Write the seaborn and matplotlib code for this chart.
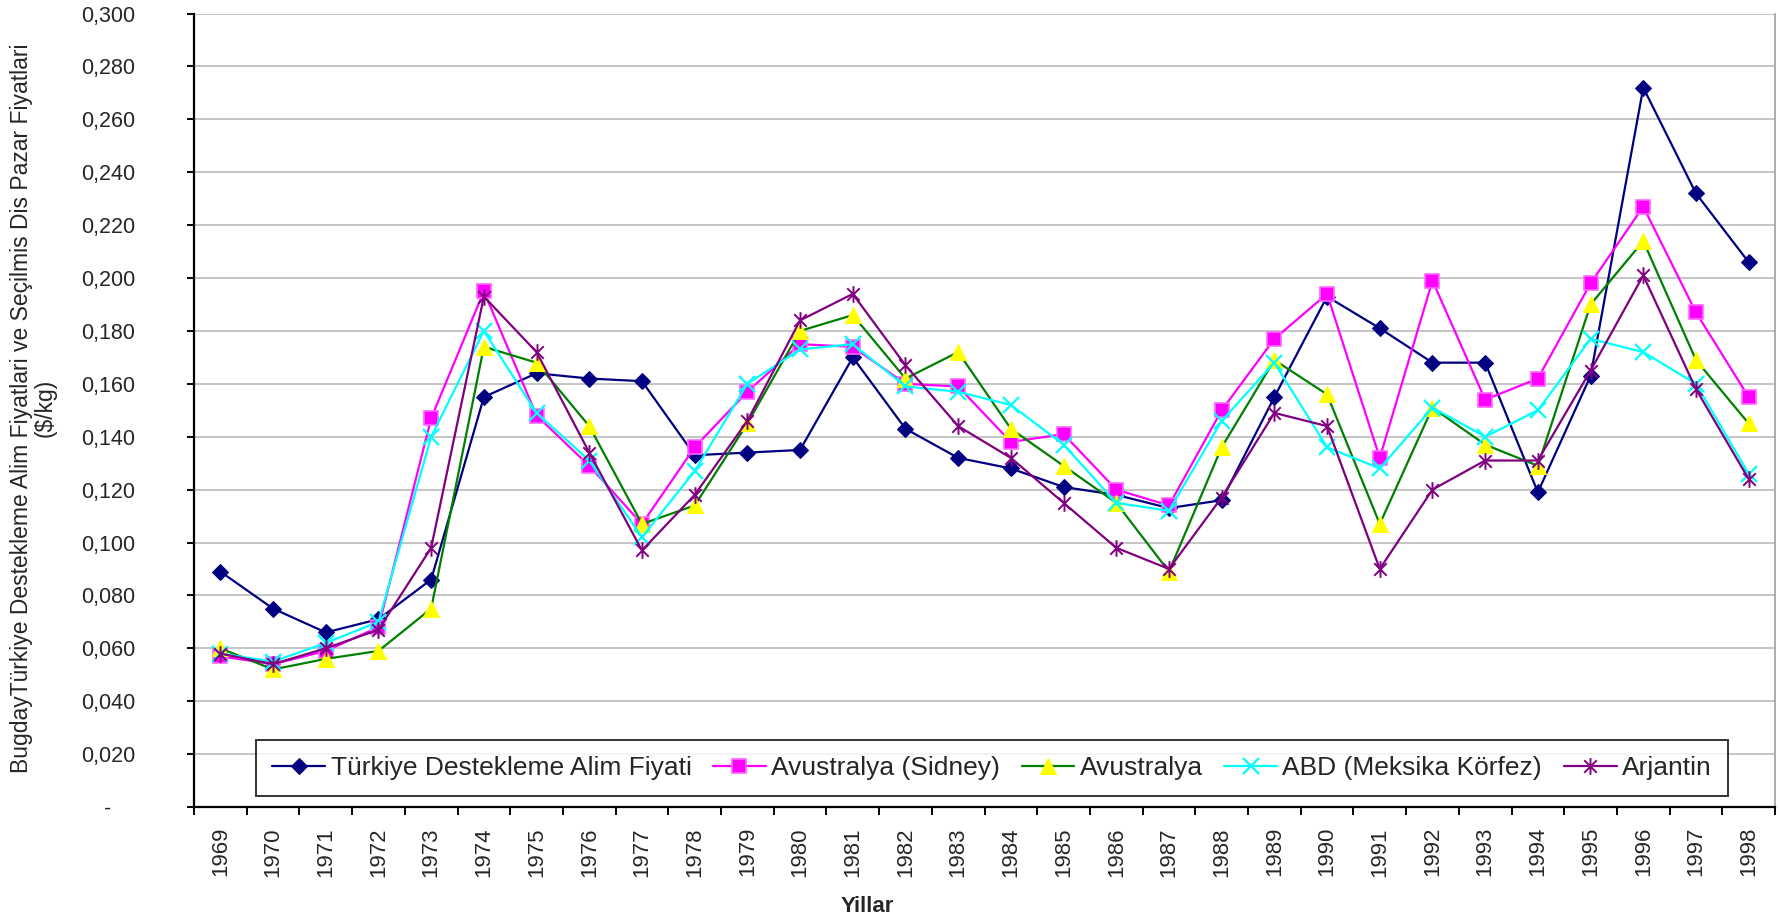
import matplotlib
matplotlib.use("Agg")
import matplotlib.pyplot as plt
import seaborn as sns
import numpy as np
import pandas as pd
from matplotlib.path import Path

years = list(range(1969, 1999))

turkiye = [0.089, 0.075, 0.066, 0.071, 0.086, 0.155, 0.164, 0.162, 0.161, 0.133,
           0.134, 0.135, 0.170, 0.143, 0.132, 0.128, 0.121, 0.118, 0.113, 0.116,
           0.155, 0.193, 0.181, 0.168, 0.168, 0.119, 0.163, 0.272, 0.232, 0.206]
avustralya_sidney = [0.057, 0.054, 0.059, 0.068, 0.147, 0.195, 0.148, 0.129, 0.107, 0.136,
                     0.157, 0.175, 0.174, 0.160, 0.159, 0.138, 0.141, 0.120, 0.114, 0.150,
                     0.177, 0.194, 0.132, 0.199, 0.154, 0.162, 0.198, 0.227, 0.187, 0.155]
avustralya = [0.060, 0.052, 0.056, 0.059, 0.075, 0.174, 0.168, 0.144, 0.107, 0.114,
              0.145, 0.180, 0.186, 0.162, 0.172, 0.143, 0.129, 0.115, 0.089, 0.136,
              0.169, 0.156, 0.107, 0.151, 0.137, 0.129, 0.190, 0.214, 0.169, 0.145]
abd = [0.058, 0.055, 0.062, 0.070, 0.140, 0.180, 0.149, 0.131, 0.102, 0.127,
       0.160, 0.173, 0.175, 0.159, 0.157, 0.152, 0.137, 0.115, 0.112, 0.146,
       0.168, 0.136, 0.128, 0.151, 0.140, 0.150, 0.177, 0.172, 0.160, 0.126]
arjantin = [0.058, 0.054, 0.060, 0.067, 0.098, 0.193, 0.172, 0.134, 0.097, 0.118,
            0.146, 0.184, 0.194, 0.167, 0.144, 0.132, 0.115, 0.098, 0.090, 0.117,
            0.149, 0.144, 0.090, 0.120, 0.131, 0.131, 0.165, 0.201, 0.158, 0.124]

series_names = ["Türkiye Destekleme Alim Fiyati", "Avustralya (Sidney)", "Avustralya",
                "ABD (Meksika Körfez)", "Arjantin"]
y_ticks = [0.0, 0.02, 0.04, 0.06, 0.08, 0.10, 0.12, 0.14, 0.16, 0.18, 0.20, 0.22, 0.24, 0.26, 0.28, 0.30]
y_tick_labels = ["-", "0,020", "0,040", "0,060", "0,080", "0,100", "0,120", "0,140", "0,160",
                 "0,180", "0,200", "0,220", "0,240", "0,260", "0,280", "0,300"]
y_label = "BugdayTürkiye Destekleme Alim Fiyatlari ve Seçilmis Dis Pazar Fiyatlari\n($/kg)"
x_label = "Yillar"

sns.set_style("white")
plt.rcParams['font.family'] = ['Liberation Sans', 'DejaVu Sans']

fig = plt.figure(figsize=(17.8, 9.23), dpi=100)
ax = fig.add_axes([0.109, 0.1257, 0.9972 - 0.109, 0.9853 - 0.1257])

star = Path([(0, -1), (0, 1), (-0.75, -0.75), (0.75, 0.75), (-0.75, 0.75), (0.75, -0.75)],
            [Path.MOVETO, Path.LINETO, Path.MOVETO, Path.LINETO, Path.MOVETO, Path.LINETO])

styles = [
    dict(color="#000080", marker="D", markersize=8.5, markerfacecolor="#000080", markeredgecolor="#000080"),
    dict(color="#FF00FF", marker="s", markersize=9.5, markerfacecolor="#FF00FF", markeredgecolor="#FF66FF", markeredgewidth=1.2),
    dict(color="#008000", marker="^", markersize=11.5, markerfacecolor="#FFFF00", markeredgecolor="#FFFF00"),
    dict(color="#00FFFF", marker="x", markersize=11, markeredgecolor="#00FFFF", markeredgewidth=1.6),
    dict(color="#800080", marker=star, markersize=12, markeredgecolor="#800080", markeredgewidth=1.4, fillstyle="none"),
]
data = [turkiye, avustralya_sidney, avustralya, abd, arjantin]

for name, vals, st in zip(series_names, data, styles):
    df = pd.DataFrame({"Yil": years, "Deger": vals})
    sns.lineplot(data=df, x="Yil", y="Deger", ax=ax, label=name, linewidth=1.6, **st)

ax.set_xlim(years[0] - 0.5, years[-1] + 0.5)
ax.set_ylim(0, 0.30)
ax.set_yticks(y_ticks)
ax.set_yticklabels(y_tick_labels, fontsize=15.5, ha="center")
ax.set_xticks(years)
ax.set_xticklabels([str(y) for y in years], rotation=90, fontsize=16)
ax.set_xticks([y - 0.5 for y in years] + [years[-1] + 0.5], minor=True)
ax.tick_params(axis="x", which="major", length=0, pad=14.5)
ax.tick_params(axis="x", which="minor", length=6, width=1.4, direction="out", color="black", bottom=True)
ax.tick_params(axis="y", which="major", length=5, width=1.4, direction="out", color="black", left=True, pad=57)

ax.yaxis.grid(True, color="#c0c0c0", linewidth=1.3)
ax.xaxis.grid(False)
ax.set_axisbelow(True)

for s in ["left", "bottom"]:
    ax.spines[s].set_color("black")
    ax.spines[s].set_linewidth(1.6)
ax.spines["top"].set_visible(False)
ax.spines["right"].set_color("#a0a0a0")
ax.spines["right"].set_linewidth(1.2)

ax.set_xlabel(x_label, fontsize=16, fontweight="bold", va="center")
ax.xaxis.set_label_coords(0.4257, -0.126)
ax.set_ylabel(y_label, fontsize=16.5, linespacing=1.05, va="center", ha="center")
ax.yaxis.set_label_coords(-0.1015, 0.503)

leg = ax.legend(loc="center", bbox_to_anchor=(0.5573, 0.168), bbox_transform=fig.transFigure,
                ncol=5, fontsize=19, frameon=True, fancybox=False, edgecolor="black",
                handlelength=2.0, columnspacing=0.82, handletextpad=0.2, borderpad=0.62,
                borderaxespad=0)
leg.get_frame().set_linewidth(1.4)

fig.savefig("out.png", dpi=100)
